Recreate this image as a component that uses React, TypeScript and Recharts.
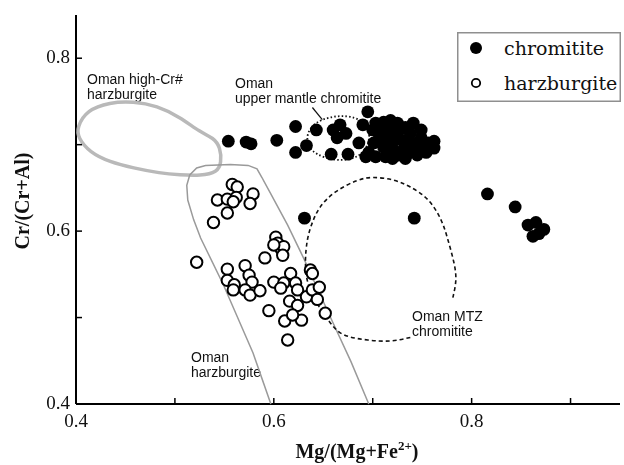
import React from 'react';
import { ScatterChart, Scatter, XAxis, YAxis, Legend, Customized } from 'recharts';

// Mg# (x) vs Cr# (y) of spinel
const chromitite = [
  { x: 0.554, y: 0.704 }, { x: 0.572, y: 0.703 }, { x: 0.577, y: 0.701 }, { x: 0.603, y: 0.705 },
  { x: 0.622, y: 0.721 }, { x: 0.622, y: 0.691 }, { x: 0.633, y: 0.699 }, { x: 0.643, y: 0.717 },
  { x: 0.658, y: 0.689 }, { x: 0.675, y: 0.689 }, { x: 0.660, y: 0.717 }, { x: 0.667, y: 0.723 },
  { x: 0.664, y: 0.708 }, { x: 0.673, y: 0.713 }, { x: 0.686, y: 0.702 },
  { x: 0.695, y: 0.738 }, { x: 0.690, y: 0.723 }, { x: 0.703, y: 0.725 }, { x: 0.711, y: 0.726 },
  { x: 0.718, y: 0.728 }, { x: 0.725, y: 0.725 }, { x: 0.733, y: 0.720 }, { x: 0.741, y: 0.725 },
  { x: 0.706, y: 0.713 }, { x: 0.716, y: 0.711 }, { x: 0.725, y: 0.709 }, { x: 0.738, y: 0.713 },
  { x: 0.749, y: 0.708 }, { x: 0.756, y: 0.702 }, { x: 0.762, y: 0.704 }, { x: 0.701, y: 0.702 },
  { x: 0.711, y: 0.697 }, { x: 0.721, y: 0.694 }, { x: 0.731, y: 0.694 }, { x: 0.741, y: 0.694 },
  { x: 0.752, y: 0.694 }, { x: 0.696, y: 0.691 }, { x: 0.693, y: 0.686 }, { x: 0.726, y: 0.688 },
  { x: 0.736, y: 0.690 }, { x: 0.747, y: 0.699 }, { x: 0.759, y: 0.697 }, { x: 0.713, y: 0.686 },
  { x: 0.730, y: 0.705 }, { x: 0.700, y: 0.717 }, { x: 0.708, y: 0.720 }, { x: 0.716, y: 0.718 },
  { x: 0.723, y: 0.717 }, { x: 0.731, y: 0.719 }, { x: 0.749, y: 0.717 }, { x: 0.710, y: 0.705 },
  { x: 0.720, y: 0.703 }, { x: 0.738, y: 0.703 }, { x: 0.703, y: 0.686 }, { x: 0.720, y: 0.684 },
  { x: 0.733, y: 0.684 }, { x: 0.745, y: 0.688 }, { x: 0.754, y: 0.691 }, { x: 0.762, y: 0.696 },
  { x: 0.631, y: 0.615 }, { x: 0.742, y: 0.615 }, { x: 0.816, y: 0.643 }, { x: 0.844, y: 0.628 },
  { x: 0.857, y: 0.607 }, { x: 0.865, y: 0.610 }, { x: 0.873, y: 0.602 }, { x: 0.862, y: 0.594 },
  { x: 0.868, y: 0.597 },
];

const harzburgite = [
  { x: 0.558, y: 0.654 }, { x: 0.563, y: 0.651 }, { x: 0.543, y: 0.636 }, { x: 0.553, y: 0.637 },
  { x: 0.562, y: 0.639 }, { x: 0.559, y: 0.634 }, { x: 0.579, y: 0.643 }, { x: 0.576, y: 0.632 },
  { x: 0.553, y: 0.621 }, { x: 0.539, y: 0.610 }, { x: 0.522, y: 0.564 }, { x: 0.553, y: 0.556 },
  { x: 0.571, y: 0.560 }, { x: 0.575, y: 0.549 }, { x: 0.553, y: 0.543 }, { x: 0.560, y: 0.538 },
  { x: 0.559, y: 0.532 }, { x: 0.578, y: 0.541 }, { x: 0.571, y: 0.532 }, { x: 0.576, y: 0.526 },
  { x: 0.586, y: 0.531 }, { x: 0.591, y: 0.569 }, { x: 0.602, y: 0.593 }, { x: 0.604, y: 0.586 },
  { x: 0.607, y: 0.580 }, { x: 0.610, y: 0.582 }, { x: 0.609, y: 0.572 }, { x: 0.600, y: 0.584 },
  { x: 0.617, y: 0.551 }, { x: 0.600, y: 0.541 }, { x: 0.610, y: 0.540 }, { x: 0.607, y: 0.534 },
  { x: 0.622, y: 0.540 }, { x: 0.624, y: 0.532 }, { x: 0.616, y: 0.519 }, { x: 0.624, y: 0.514 },
  { x: 0.595, y: 0.508 }, { x: 0.611, y: 0.496 }, { x: 0.628, y: 0.497 }, { x: 0.614, y: 0.474 },
  { x: 0.633, y: 0.524 }, { x: 0.639, y: 0.532 }, { x: 0.646, y: 0.535 }, { x: 0.644, y: 0.521 },
  { x: 0.652, y: 0.505 }, { x: 0.637, y: 0.555 }, { x: 0.639, y: 0.551 }, { x: 0.619, y: 0.503 },
];

// field outlines
const highCrField = [
  { x: 0.401, y: 0.720 }, { x: 0.411, y: 0.740 }, { x: 0.434, y: 0.749 }, { x: 0.458, y: 0.750 },
  { x: 0.482, y: 0.745 }, { x: 0.505, y: 0.732 }, { x: 0.526, y: 0.714 }, { x: 0.539, y: 0.708 },
  { x: 0.546, y: 0.697 }, { x: 0.547, y: 0.679 }, { x: 0.543, y: 0.668 }, { x: 0.526, y: 0.664 },
  { x: 0.505, y: 0.665 }, { x: 0.485, y: 0.667 }, { x: 0.458, y: 0.673 }, { x: 0.434, y: 0.680 },
  { x: 0.414, y: 0.691 }, { x: 0.402, y: 0.708 },
];

const harzField = [
  { x: 0.597, y: 0.400 }, { x: 0.579, y: 0.459 }, { x: 0.549, y: 0.538 }, { x: 0.526, y: 0.592 },
  { x: 0.519, y: 0.613 }, { x: 0.513, y: 0.636 }, { x: 0.512, y: 0.653 }, { x: 0.515, y: 0.665 },
  { x: 0.522, y: 0.673 }, { x: 0.531, y: 0.676 }, { x: 0.556, y: 0.677 }, { x: 0.574, y: 0.676 },
  { x: 0.583, y: 0.672 }, { x: 0.588, y: 0.662 }, { x: 0.596, y: 0.645 }, { x: 0.614, y: 0.607 },
  { x: 0.630, y: 0.569 }, { x: 0.657, y: 0.501 }, { x: 0.678, y: 0.449 }, { x: 0.696, y: 0.400 },
];

const mtzField = [
  { x: 0.738, y: 0.477 }, { x: 0.718, y: 0.473 }, { x: 0.695, y: 0.474 }, { x: 0.671, y: 0.480 },
  { x: 0.657, y: 0.494 }, { x: 0.645, y: 0.514 }, { x: 0.635, y: 0.538 }, { x: 0.632, y: 0.564 },
  { x: 0.634, y: 0.590 }, { x: 0.639, y: 0.610 }, { x: 0.647, y: 0.628 }, { x: 0.662, y: 0.645 },
  { x: 0.683, y: 0.658 }, { x: 0.701, y: 0.662 }, { x: 0.721, y: 0.659 }, { x: 0.738, y: 0.651 },
  { x: 0.756, y: 0.636 }, { x: 0.769, y: 0.613 }, { x: 0.776, y: 0.590 }, { x: 0.782, y: 0.564 },
  { x: 0.784, y: 0.543 }, { x: 0.781, y: 0.523 },
];

const upperMantleField = [
  { x: 0.633, y: 0.709 }, { x: 0.637, y: 0.720 }, { x: 0.647, y: 0.729 }, { x: 0.665, y: 0.734 },
  { x: 0.683, y: 0.732 }, { x: 0.694, y: 0.723 }, { x: 0.698, y: 0.709 }, { x: 0.692, y: 0.691 },
  { x: 0.678, y: 0.682 }, { x: 0.659, y: 0.682 }, { x: 0.642, y: 0.689 }, { x: 0.635, y: 0.698 },
];

const upperMantleLeader = [{ x: 0.639, y: 0.743 }, { x: 0.649, y: 0.729 }];

const xTicks = [0.4, 0.5, 0.6, 0.7, 0.8, 0.9];
const xTickLabels = ['0.4', '', '0.6', '', '0.8', ''];
const yTicks = [0.4, 0.5, 0.6, 0.7, 0.8];
const yTickLabels = ['0.4', '', '0.6', '', '0.8'];

const legendItems = [
  { name: 'chromitite', filled: true },
  { name: 'harzburgite', filled: false },
];

const serif = '"Liberation Serif", "Times New Roman", serif';
const sans = '"Liberation Sans", Arial, sans-serif';

const XTick = (props: any) => {
  const { x, y, payload } = props;
  const label = xTickLabels[xTicks.indexOf(payload.value)];
  return (
    <g>
      <line x1={x} y1={y} x2={x} y2={y - 6} stroke="#000" strokeWidth={1.5} />
      {label ? (
        <text x={x} y={y + 23} textAnchor="middle" fontFamily={serif} fontSize={19} fill="#111">
          {label}
        </text>
      ) : null}
    </g>
  );
};

const YTick = (props: any) => {
  const { x, y, payload } = props;
  const label = yTickLabels[yTicks.indexOf(payload.value)];
  return (
    <g>
      <line x1={x} y1={y} x2={x + 6} y2={y} stroke="#000" strokeWidth={1.5} />
      {label ? (
        <text x={x - 6} y={y + 5} textAnchor="end" fontFamily={serif} fontSize={19} fill="#111">
          {label}
        </text>
      ) : null}
    </g>
  );
};

const noDot = () => <g />;
const filledDot = (p: any) => <circle cx={p.cx} cy={p.cy} r={6.4} fill="#000" />;
const openDot = (p: any) => (
  <circle cx={p.cx} cy={p.cy} r={5.7} fill="#fff" stroke="#000" strokeWidth={2} />
);

const LegendBox = () => (
  <svg width={164} height={70}>
    <rect x={0.75} y={0.75} width={162.5} height={68.5} fill="#fff" stroke="#8f8f8f" strokeWidth={1.5} />
    {legendItems.map((item, i) => (
      <g key={item.name}>
        {item.filled ? (
          <circle cx={19} cy={16 + i * 35} r={6} fill="#000" />
        ) : (
          <circle cx={19} cy={16 + i * 35} r={4.2} fill="#fff" stroke="#000" strokeWidth={1.8} />
        )}
        <text x={47} y={23 + i * 35} fontFamily='"DejaVu Serif", serif' fontSize={19} fill="#111">
          {item.name}
        </text>
      </g>
    ))}
  </svg>
);

const Annotations = () => (
  <g fill="#111" fontFamily={sans} fontSize={14}>
    <text x={79} y={76}>Oman high-Cr#</text>
    <text x={79} y={91}>harzburgite</text>
    <text x={227} y={80}>Oman</text>
    <text x={227} y={95}>upper mantle chromitite</text>
    <text x={404} y={313}>Oman MTZ</text>
    <text x={404} y={328}>chromitite</text>
    <text x={183} y={354}>Oman</text>
    <text x={183} y={369}>harzburgite</text>
    <text x={349} y={450} textAnchor="middle" fontFamily={serif} fontSize={20} fontWeight="bold">
      Mg/(Mg+Fe
      <tspan dy={-8} fontSize={13}>2+</tspan>
      <tspan dy={8}>)</tspan>
    </text>
    <text
      x={21}
      y={193}
      textAnchor="middle"
      fontFamily={serif}
      fontSize={20}
      fontWeight="bold"
      transform="rotate(-90 21 193)"
    >
      Cr/(Cr+Al)
    </text>
  </g>
);

export default function App() {
  return (
    <div style={{ position: 'fixed', left: 8, top: 8 }}>
      <ScatterChart width={616} height={457} margin={{ top: 7, right: 4, bottom: 0, left: 0 }}>
        <XAxis
          type="number"
          dataKey="x"
          domain={[0.4, 0.95]}
          ticks={xTicks}
          height={61}
          axisLine={{ stroke: '#000', strokeWidth: 2 }}
          tickLine={false}
          tickSize={0}
          tickMargin={0}
          tick={XTick}
          interval={0}
        />
        <YAxis
          type="number"
          dataKey="y"
          domain={[0.4, 0.85]}
          ticks={yTicks}
          width={68}
          axisLine={{ stroke: '#000', strokeWidth: 2 }}
          tickLine={false}
          tickSize={0}
          tickMargin={0}
          tick={YTick}
          interval={0}
        />
        <Legend
          content={LegendBox}
          layout="vertical"
          align="center"
          verticalAlign="middle"
          wrapperStyle={{ position: 'absolute', left: 449, top: 24, width: 164, height: 70 }}
        />
        <Scatter
          data={highCrField}
          line={{ stroke: '#b9b9b9', strokeWidth: 3.5 }}
          lineJointType="basisClosed"
          shape={noDot}
          legendType="none"
          isAnimationActive={false}
        />
        <Scatter
          data={harzField}
          line={{ stroke: '#9a9a9a', strokeWidth: 1.5 }}
          lineJointType="linear"
          shape={noDot}
          legendType="none"
          isAnimationActive={false}
        />
        <Scatter
          data={mtzField}
          line={{ stroke: '#111', strokeWidth: 1.6, strokeDasharray: '4 3' }}
          lineJointType="natural"
          shape={noDot}
          legendType="none"
          isAnimationActive={false}
        />
        <Scatter
          data={upperMantleField}
          line={{ stroke: '#111', strokeWidth: 1.8, strokeDasharray: '1.5 2.2' }}
          lineJointType="basisClosed"
          shape={noDot}
          legendType="none"
          isAnimationActive={false}
        />
        <Scatter
          data={upperMantleLeader}
          line={{ stroke: '#111', strokeWidth: 1.2 }}
          shape={noDot}
          legendType="none"
          isAnimationActive={false}
        />
        <Scatter name="harzburgite" data={harzburgite} shape={openDot} isAnimationActive={false} />
        <Scatter name="chromitite" data={chromitite} shape={filledDot} isAnimationActive={false} />
        <Customized component={Annotations} />
      </ScatterChart>
    </div>
  );
}
